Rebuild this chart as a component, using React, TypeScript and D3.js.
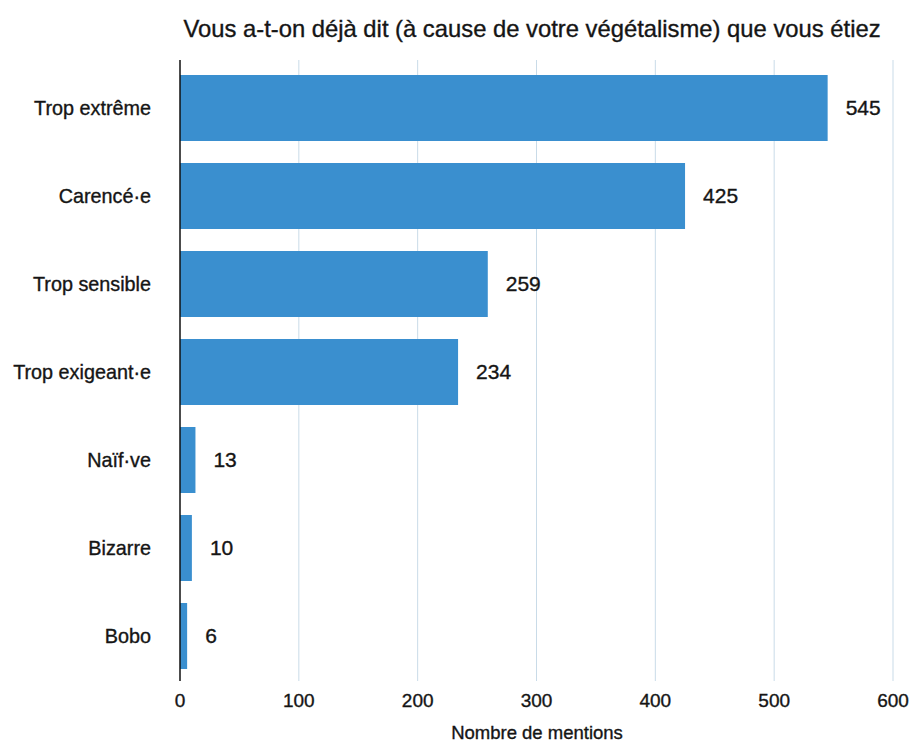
import * as d3 from "d3";

const categories = [
  "Trop extrême",
  "Carencé·e",
  "Trop sensible",
  "Trop exigeant·e",
  "Naïf·ve",
  "Bizarre",
  "Bobo",
];
const mentions = [545, 425, 259, 234, 13, 10, 6];
const ticks = [0, 100, 200, 300, 400, 500, 600];

const width = 913;
const height = 746;
const font = "'Liberation Sans', Arial, Helvetica, sans-serif";
const ink = "#151515";

export default function App() {
  const x = d3.scaleLinear().domain([0, 600]).range([180, 893]);
  const y = d3
    .scaleBand()
    .domain(categories)
    .range([64, 680])
    .paddingInner(0.25)
    .paddingOuter(0.125);

  const textStyle = { stroke: ink, strokeWidth: 0.35 };

  return (
    <svg
      width={width}
      height={height}
      style={{ position: "absolute", left: 0, top: 0, background: "#fff" }}
    >
      <text
        x={532}
        y={37}
        textAnchor="middle"
        fontFamily={font}
        fontSize={23.8}
        fill={ink}
        style={textStyle}
      >
        Vous a-t-on déjà dit (à cause de votre végétalisme) que vous étiez
      </text>

      {/* grid */}
      {ticks.slice(1).map((t) => (
        <line
          key={t}
          x1={x(t)}
          x2={x(t)}
          y1={60}
          y2={681}
          stroke="#c9dbe8"
          strokeWidth={1}
        />
      ))}

      {/* bars */}
      {categories.map((c, i) => (
        <g key={c}>
          <rect
            x={x(0)}
            y={y(c)}
            width={x(mentions[i]) - x(0)}
            height={y.bandwidth()}
            fill="#3a8fcf"
          />
          <text
            x={x(mentions[i]) + 18}
            y={(y(c) ?? 0) + y.bandwidth() / 2}
            dy="0.35em"
            fontFamily={font}
            fontSize={21}
            fill={ink}
            style={textStyle}
          >
            {mentions[i]}
          </text>
          <text
            x={151}
            y={(y(c) ?? 0) + y.bandwidth() / 2}
            dy="0.35em"
            textAnchor="end"
            fontFamily={font}
            fontSize={19.8}
            fill={ink}
            style={textStyle}
          >
            {c}
          </text>
        </g>
      ))}

      {/* axis line */}
      <line x1={x(0)} x2={x(0)} y1={60} y2={681} stroke="#111" strokeWidth={1.5} />

      {ticks.map((t) => (
        <text
          key={t}
          x={x(t)}
          y={707}
          textAnchor="middle"
          fontFamily={font}
          fontSize={19}
          fill={ink}
          style={textStyle}
        >
          {t}
        </text>
      ))}

      <text
        x={537}
        y={739}
        textAnchor="middle"
        fontFamily={font}
        fontSize={18.5}
        fill={ink}
        style={textStyle}
      >
        Nombre de mentions
      </text>
    </svg>
  );
}
